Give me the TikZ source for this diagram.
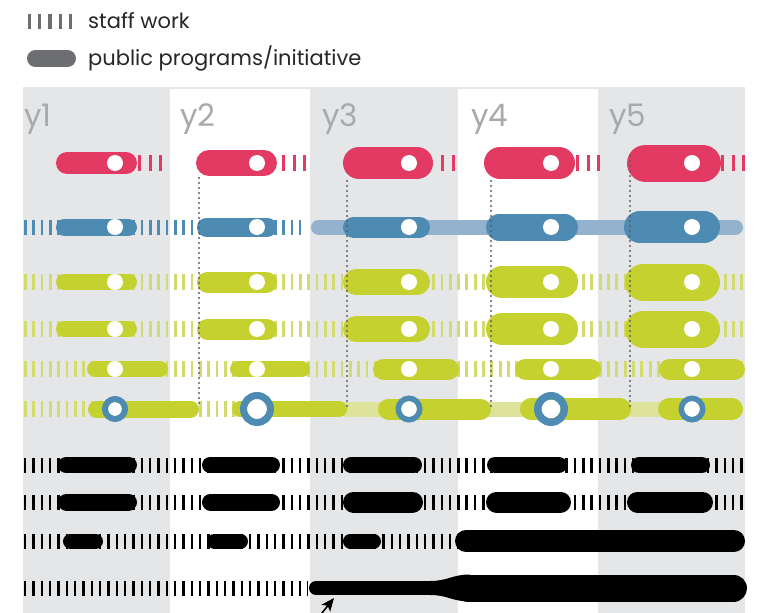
\documentclass[tikz,border=0pt]{standalone}
\usepackage{fontspec}
\setmainfont{Poppins}
\usetikzlibrary{arrows.meta}
\definecolor{bandgray}{HTML}{E5E6E8}
\definecolor{pred}{HTML}{E23A62}
\definecolor{pblue}{HTML}{4E8BB3}
\definecolor{lblue}{HTML}{93B2CE}
\definecolor{pgreen}{HTML}{C5D12E}
\definecolor{tgreen}{HTML}{D3DB6C}
\definecolor{lgreen}{HTML}{DEE39C}
\definecolor{legendgray}{HTML}{6D6E71}
\definecolor{labelgray}{HTML}{A7A9AC}
\definecolor{dotgray}{HTML}{5E5F62}
\newcommand\pill[5]{\draw[#1, line width=#5pt, line cap=round] ({#2+#5/2},#4) -- ({#3-#5/2},#4);}
\newcommand\hdot[2]{\fill[white] (#1,#2) circle[radius=8pt];}
\newcommand\ring[4]{\fill[white] (#1,#2) circle[radius=#3pt]; \draw[pblue, line width=#4pt] (#1,#2) circle[radius={#3+#4/2}];}
\tikzset{
  blackticks/.style={black, line width=15pt, dash pattern=on 2.4pt off 5.93pt},
  blueticks/.style={pblue, line width=15pt, dash pattern=on 2.6pt off 5.73pt},
  greenticks/.style={tgreen, line width=16pt, dash pattern=on 2.8pt off 5.53pt},
  redticks/.style={pred, line width=16pt, dash pattern=on 3pt off 7.6pt},
  legendticks/.style={legendgray, line width=15pt, dash pattern=on 3.2pt off 7pt},
  guide/.style={dotgray, line width=2.1pt, line cap=round, dash pattern=on 0pt off 5pt},
  ylabel/.style={anchor=base west, text=labelgray, font=\fontsize{31}{31}\selectfont, inner sep=0pt},
  legendtext/.style={anchor=base west, text=black!85, font=\fontsize{21}{21}\selectfont, inner sep=0pt}
}
\begin{document}
\begin{tikzpicture}[x=1pt,y=-1pt]
\useasboundingbox (0,0) rectangle (758,613);
% column bands
\fill[bandgray] (23,87) rectangle (745,89);
\fill[bandgray] (23,87) rectangle (170,613);
\fill[bandgray] (310,87) rectangle (458,613);
\fill[bandgray] (598,87) rectangle (745,613);
\node[ylabel] (l1) at (24,126) {y1};
\node[ylabel] (l2) at (180,126) {y2};
\node[ylabel] (l3) at (322,126) {y3};
\node[ylabel] (l4) at (471,126) {y4};
\node[ylabel] (l5) at (609,126) {y5};
% legend
\draw[legendticks] (28,21) -- (73,21);
\node[legendtext] (lg1) at (88,28) {staff work};
\pill{legendgray}{27}{76}{58.5}{17}
\node[legendtext] (lg2) at (88,65) {public programs/initiative};
% row 1 red
\draw[redticks] (138,163) -- (163,163);
\draw[redticks] (282,163) -- (307,163);
\draw[redticks] (441,163) -- (456,163);
\draw[redticks] (576,163) -- (600,163);
\draw[redticks] (721,163) -- (745,163);
\pill{pred}{56}{137}{163}{22}
\pill{pred}{196}{277}{163}{26}
\pill{pred}{343}{433}{163}{32}
\pill{pred}{484}{575}{163}{32}
\pill{pred}{627}{721}{163}{37}
% row 2 blue
\draw[blueticks] (24,227) -- (306,227);
\pill{lblue}{311}{743}{227}{15}
\pill{pblue}{56}{137}{227}{17}
\pill{pblue}{197}{277}{227}{19}
\pill{pblue}{343}{430}{227}{21}
\pill{pblue}{486}{578}{227}{27}
\pill{pblue}{624}{720}{227}{32}
% rows 3 and 4 green
\foreach \yy in {282,329}{
  \draw[greenticks] (24,\yy) -- (745,\yy);
  \pill{pgreen}{56}{137}{\yy}{16}
  \pill{pgreen}{197}{277}{\yy}{21}
  \pill{pgreen}{343}{430}{\yy}{26}
  \pill{pgreen}{486}{578}{\yy}{32}
  \pill{pgreen}{625}{720}{\yy}{37}
}
% row 5 green
\draw[greenticks] (24,369) -- (745,369);
\pill{pgreen}{87}{168}{369}{16}
\pill{pgreen}{230}{310}{369}{16}
\pill{pgreen}{373}{459}{369}{21}
\pill{pgreen}{515}{601}{369}{21}
\pill{pgreen}{659}{745}{369}{21}
% dots
\foreach \yy in {163,227,282,329,369}{
  \foreach \xx in {115,257,409,551,692}{ \hdot{\xx}{\yy} }
}
% row 6 green
\draw[greenticks] (24,409) -- (236,409);
\pill{lgreen}{340}{743}{409}{15}
\pill{pgreen}{88}{199}{409}{17}
\pill{pgreen}{232}{347}{409}{16}
\pill{pgreen}{378}{491}{409}{21}
\pill{pgreen}{520}{631}{409}{22}
\pill{pgreen}{658}{743}{409}{22}
\ring{115}{409}{7}{6}
\ring{257}{409}{10}{7}
\ring{409}{409}{8}{5.5}
\ring{551}{409}{9.5}{7.5}
\ring{692}{409}{8}{5.5}
% guide lines
\coordinate (g1a) at (199,178); \coordinate (g1b) at (199,406);
\coordinate (g2a) at (347,181); \coordinate (g2b) at (347,406);
\coordinate (g3a) at (491,181); \coordinate (g3b) at (491,406);
\coordinate (g4a) at (630,156); \coordinate (g4b) at (630,406);
\draw[guide] (g1a) -- (g1b);
\draw[guide] (g2a) -- (g2b);
\draw[guide] (g3a) -- (g3b);
\draw[guide] (g4a) -- (g4b);
% row 7 black
\draw[blackticks] (24,465) -- (745,465);
\pill{black}{58}{137}{465}{16}
\pill{black}{202}{280}{465}{16}
\pill{black}{343}{422}{465}{16}
\pill{black}{487}{567}{465}{16}
\pill{black}{631}{710}{465}{16}
% row 8 black
\draw[blackticks] (24,502) -- (745,502);
\pill{black}{58}{137}{502}{17}
\pill{black}{202}{280}{502}{17}
\pill{black}{343}{423}{502}{21}
\pill{black}{486}{571}{502}{21}
\pill{black}{627}{713}{502}{21}
% row 9 black
\draw[blackticks] (24,541) -- (460,541);
\pill{black}{63}{103}{541}{15}
\pill{black}{207}{248}{541}{15}
\pill{black}{343}{381}{541}{15}
\pill{black}{455}{745}{541}{22}
% row 10 black
\draw[blackticks] (24,588) -- (308,588);
\pill{black}{309}{470}{588}{14}
\pill{black}{455}{747}{588}{27}
\fill[black] (430,581) .. controls (448,581) and (452,574.5) .. (470,574.5) -- (470,601.5) .. controls (452,601.5) and (448,595) .. (430,595) -- cycle;
% arrow
\coordinate (arrtail) at (318,618);
\coordinate (arrtip) at (334,598);
\draw[-{Stealth[length=13pt,width=11pt,inset=3pt]}, line width=1.5pt] (arrtail) -- (arrtip);
\end{tikzpicture}
\end{document}
